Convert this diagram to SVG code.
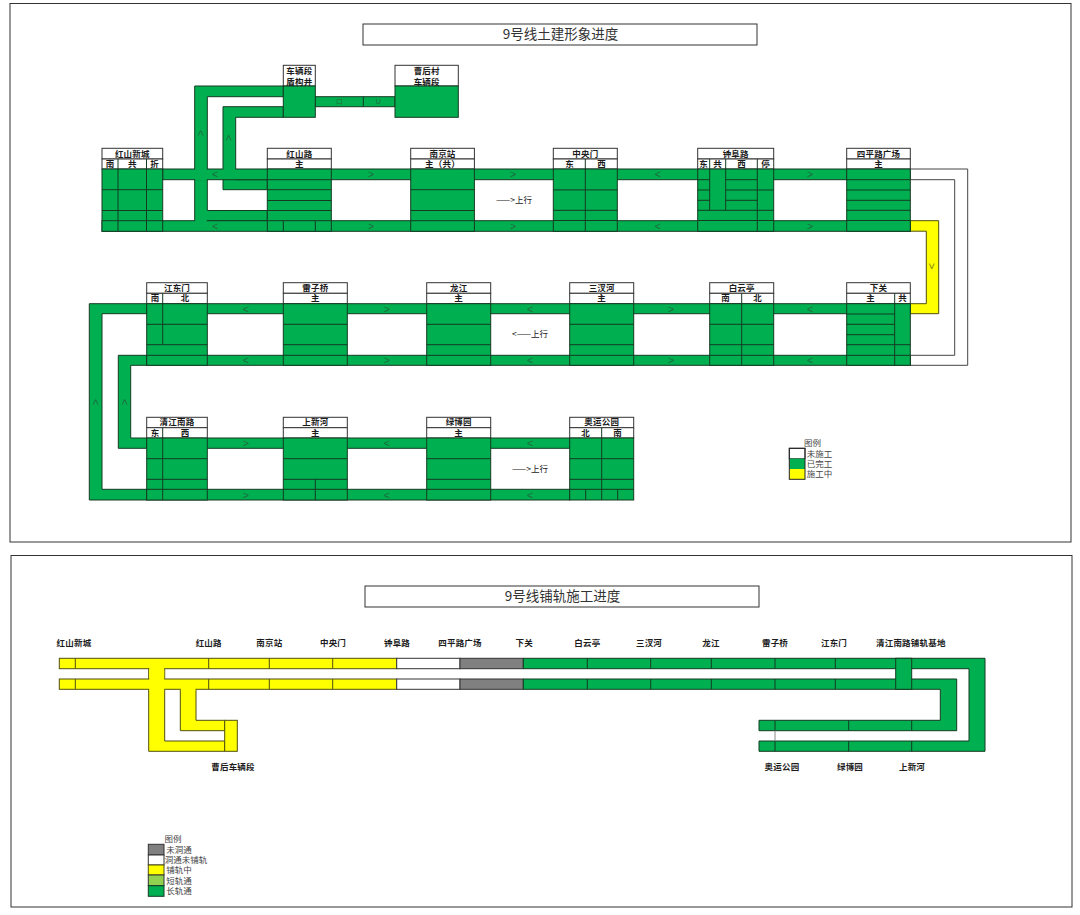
<svg xmlns="http://www.w3.org/2000/svg" width="1080" height="915" viewBox="0 0 1080 915">
<style>
text{font-family:"Noto Sans CJK SC","Liberation Sans",sans-serif;text-anchor:middle;dominant-baseline:central;fill:#1c1c1c}
.panel{fill:#fff;stroke:#333;stroke-width:1}
.w{fill:#fff;stroke:#333;stroke-width:1}
.g{fill:#00b050;stroke:#143a22;stroke-width:1}
.y{fill:#ffff00;stroke:#4f4f10;stroke-width:1}
.k{fill:#808080;stroke:#333;stroke-width:1}
.s{fill:#92d050;stroke:#333;stroke-width:1}
.ln{fill:none;stroke:#143a22;stroke-width:1}
.cg{fill:#00b050;stroke:none}
.cy{fill:#ffff00;stroke:none}
.t{font-size:13.5px;fill:#333;transform:translateY(-1px)}
.n{font-size:8.5px;font-weight:700;letter-spacing:.2px;transform:translateY(-1.2px)}
.l{font-size:8.5px;fill:#444;transform:translateY(-1px)}
.a{font-family:"Liberation Sans",sans-serif;font-size:10.5px;fill:#1f6b3d}
.u{font-size:8.5px;fill:#222;transform:translateY(-1px)}
</style>
<rect width="1080" height="915" fill="#fff"/>
<rect class="panel" x="10" y="3.5" width="1061" height="538.5"/>
<rect class="panel" x="11" y="555.5" width="1061" height="351.5"/>
<g id="title-1"><rect class="w" x="363" y="24" width="394" height="21"/><text class="t" x="560.5" y="34">9号线土建形象进度</text></g>
<g id="title-2"><rect class="w" x="365" y="586" width="394" height="21"/><text class="t" x="562.5" y="596">9号线铺轨施工进度</text></g>

<g id="connectors-1">
<path d="M910.3 169H967.7V365.3H910.3V355.3H954.7V179.7H910.3Z" class="w" style="stroke:#444"/>
<path class="y" d="M910.3 220.7H938.7V313.7H910.3V303.7H926.3V231.2H910.3Z"/>
<path class="g" d="M283.3 86H194.7V220.7H267.3V210.5H207.3V96.7H283.3Z"/>
<path class="g" d="M283.3 106.7H223V189.7H267.3V179.7H235.7V117.3H283.3Z"/>
<rect class="g" x="315.3" y="96.7" width="79.7" height="10"/>
<path class="ln" d="M363.3 96.7V106.7"/>
<rect class="g" x="162.7" y="169" width="684" height="10.7"/>
<rect class="g" x="102" y="220.7" width="808.3" height="10.6"/>
<rect class="cg" x="195.2" y="167.5" width="11.6" height="13"/>
<rect class="cg" x="223.5" y="167.5" width="11.7" height="3"/>
<rect class="cg" x="195.2" y="219" width="11.6" height="3"/>
<rect class="g" x="146.7" y="303.7" width="763.6" height="10"/>
<rect class="g" x="146.7" y="355.3" width="763.6" height="10"/>
<path class="g" d="M146.7 303.7H89.3V500H146.7V489.3H102V313.7H146.7Z"/>
<path class="g" d="M146.7 355.3H118.3V448.3H146.7V438H130.7V365.3H146.7Z"/>
<rect class="g" x="146.7" y="438" width="423" height="10.3"/>
<rect class="g" x="146.7" y="489.3" width="423" height="10.7"/>
</g>

<g id="track-labels">
<text class="a" x="215" y="174.3">&lt;</text><text class="a" x="371" y="174.3">&gt;</text><text class="a" x="513" y="174.3">&gt;</text><text class="a" x="657.7" y="174.3">&lt;</text><text class="a" x="810" y="174.3">&gt;</text>
<text class="a" x="215" y="226">&lt;</text><text class="a" x="371" y="226">&gt;</text><text class="a" x="513" y="226">&gt;</text><text class="a" x="657.7" y="226">&lt;</text><text class="a" x="810" y="226">&gt;</text>
<text class="a" x="245.7" y="308.7">&lt;</text><text class="a" x="386.7" y="308.7">&gt;</text><text class="a" x="530" y="308.7">&lt;</text><text class="a" x="671" y="308.7">&gt;</text><text class="a" x="810" y="308.7">&lt;</text>
<text class="a" x="245.7" y="360.3">&lt;</text><text class="a" x="386.7" y="360.3">&gt;</text><text class="a" x="530" y="360.3">&lt;</text><text class="a" x="671" y="360.3">&gt;</text><text class="a" x="810" y="360.3">&lt;</text>
<text class="a" x="245.7" y="443">&gt;</text><text class="a" x="386.7" y="443">&lt;</text><text class="a" x="530" y="443">&lt;</text>
<text class="a" x="245.7" y="494.7">&gt;</text><text class="a" x="386.7" y="494.7">&lt;</text><text class="a" x="530" y="494.7">&lt;</text>
<text class="a" x="200.5" y="133" transform="rotate(90 200.5 133)">&lt;</text>
<text class="a" x="229.2" y="137.7" transform="rotate(90 229.2 137.7)">&lt;</text>
<text class="a" x="931.7" y="266" transform="rotate(90 931.7 266)" style="fill:#7a7a10">&gt;</text>
<text class="a" x="95.5" y="402" transform="rotate(90 95.5 402)">&lt;</text>
<text class="a" x="124.5" y="402" transform="rotate(90 124.5 402)">&lt;</text>
<text class="a" x="339.3" y="101.5" style="font-size:7px">口</text>
<text class="a" x="378.3" y="101.5" style="font-size:7px">U</text>
<text class="u" x="514" y="200">——&gt;上行</text>
<text class="u" x="530" y="334">&lt;——上行</text>
<text class="u" x="530" y="469">——&gt;上行</text>
</g>

<g id="st-hongshanxincheng">
<rect class="w" x="102" y="148.3" width="60.7" height="10.7"/><rect class="w" x="102" y="159" width="60.7" height="10"/>
<rect class="g" x="102" y="169" width="60.7" height="62.3"/>
<path class="ln" d="M102 189.7H162.7M102 210.5H162.7M102 220.7H162.7M118 159V231.3M146.5 159V231.3"/>
<text class="n" x="132.3" y="153.8">红山新城</text><text class="n" x="110" y="164">南</text><text class="n" x="132.3" y="164">共</text><text class="n" x="154.6" y="164">折</text>
</g>
<g id="st-depot-shaft">
<rect class="w" x="283.3" y="65.3" width="32" height="20.7"/><rect class="g" x="283.3" y="86" width="32" height="31.3"/>
<text class="n" x="299.3" y="71.5">车辆段</text><text class="n" x="299.3" y="82">盾构井</text>
</g>
<g id="st-caohoucun">
<rect class="w" x="395" y="65.3" width="63.3" height="20.7"/><rect class="g" x="395" y="86" width="63.3" height="31.3"/>
<text class="n" x="426.7" y="71.5">曹后村</text><text class="n" x="426.7" y="82">车辆段</text>
</g>
<g id="st-hongshanlu">
<rect class="w" x="267.3" y="148.3" width="64" height="10.7"/><rect class="w" x="267.3" y="159" width="64" height="10"/>
<rect class="g" x="267.3" y="169" width="64" height="62.3"/>
<path class="ln" d="M267.3 179.7H331.3M267.3 189.7H331.3M267.3 200.5H331.3M267.3 210.5H331.3M267.3 220.7H331.3M283.3 220.7V231.3M315.3 220.7V231.3"/>
<text class="n" x="299.3" y="153.8">红山路</text><text class="n" x="299.3" y="164">主</text>
</g>
<g id="st-nanjingzhan">
<rect class="w" x="410.7" y="148.3" width="63.7" height="10.7"/><rect class="w" x="410.7" y="159" width="63.7" height="10"/>
<rect class="g" x="410.7" y="169" width="63.7" height="62.3"/>
<path class="ln" d="M410.7 189.7H474.4M410.7 210.5H474.4M410.7 220.7H474.4"/>
<text class="n" x="442.5" y="153.8">南京站</text><text class="n" x="442.5" y="164">主（共）</text>
</g>
<g id="st-zhongyangmen">
<rect class="w" x="553.3" y="148.3" width="64" height="10.7"/><rect class="w" x="553.3" y="159" width="64" height="10"/>
<rect class="g" x="553.3" y="169" width="64" height="62.3"/>
<path class="ln" d="M553.3 189.9H617.3M553.3 210.3H617.3M553.3 220.5H617.3M585.3 159V231.3"/>
<text class="n" x="585.3" y="153.8">中央门</text><text class="n" x="569.5" y="164">东</text><text class="n" x="601.5" y="164">西</text>
</g>
<g id="st-zhongfulu">
<rect class="w" x="697.7" y="148.3" width="76" height="10.7"/><rect class="w" x="697.7" y="159" width="76" height="10"/>
<rect class="g" x="697.7" y="169" width="76" height="62.3"/>
<path class="ln" d="M697.7 179.7H709.7M697.7 190H709.7M697.7 200.3H709.7M725.7 179.7H757.3M725.7 190H757.3M725.7 200.3H757.3M697.7 210.3H709.7M725.7 210.3H773.7M709.7 210.3H725.7M697.7 220.5H773.7M709.7 159V210.3M725.7 159V210.3M757.3 159V231.3M757.3 190H773.7"/>
<text class="n" x="735.7" y="153.8">钟阜路</text><text class="n" x="703.7" y="164">东</text><text class="n" x="717.7" y="164">共</text><text class="n" x="741.5" y="164">西</text><text class="n" x="765.5" y="164">停</text>
</g>
<g id="st-sipinglu">
<rect class="w" x="846.7" y="148.3" width="63.6" height="10.7"/><rect class="w" x="846.7" y="159" width="63.6" height="10"/>
<rect class="g" x="846.7" y="169" width="63.6" height="62.3"/>
<path class="ln" d="M846.7 179.7H910.3M846.7 190H910.3M846.7 200.3H910.3M846.7 210.3H910.3M846.7 220.5H910.3"/>
<text class="n" x="878.5" y="153.8">四平路广场</text><text class="n" x="878.5" y="164">主</text>
</g>

<g id="st-xiaguan">
<rect class="w" x="846.7" y="282.7" width="63.6" height="10.6"/><rect class="w" x="846.7" y="293.3" width="63.6" height="10.4"/>
<rect class="g" x="846.7" y="303.7" width="63.6" height="61.6"/>
<path class="ln" d="M846.7 314H894.7M846.7 324.3H894.7M846.7 334.7H894.7M846.7 344.7H910.3M846.7 355.3H910.3M894.7 293.3V365.3"/>
<text class="n" x="878.5" y="288">下关</text><text class="n" x="870.7" y="298.5">主</text><text class="n" x="902.5" y="298.5">共</text>
</g>
<g id="st-baiyunting">
<rect class="w" x="709.7" y="282.7" width="64" height="10.6"/><rect class="w" x="709.7" y="293.3" width="64" height="10.4"/>
<rect class="g" x="709.7" y="303.7" width="64" height="61.6"/>
<path class="ln" d="M709.7 324.3H773.7M709.7 344.7H773.7M709.7 355.3H773.7M741.7 293.3V365.3"/>
<text class="n" x="741.7" y="288">白云亭</text><text class="n" x="725.7" y="298.5">南</text><text class="n" x="757.7" y="298.5">北</text>
</g>
<g id="st-sanchahe">
<rect class="w" x="569.7" y="282.7" width="64" height="10.6"/><rect class="w" x="569.7" y="293.3" width="64" height="10.4"/>
<rect class="g" x="569.7" y="303.7" width="64" height="61.6"/>
<path class="ln" d="M569.7 324.3H633.7M569.7 344.7H633.7M569.7 355.3H633.7"/>
<text class="n" x="601.7" y="288">三汊河</text><text class="n" x="601.7" y="298.5">主</text>
</g>
<g id="st-longjiang">
<rect class="w" x="426.7" y="282.7" width="64" height="10.6"/><rect class="w" x="426.7" y="293.3" width="64" height="10.4"/>
<rect class="g" x="426.7" y="303.7" width="64" height="61.6"/>
<path class="ln" d="M426.7 324.3H490.7M426.7 344.7H490.7M426.7 355.3H490.7"/>
<text class="n" x="458.7" y="288">龙江</text><text class="n" x="458.7" y="298.5">主</text>
</g>
<g id="st-leiziqiao">
<rect class="w" x="283.3" y="282.7" width="64" height="10.6"/><rect class="w" x="283.3" y="293.3" width="64" height="10.4"/>
<rect class="g" x="283.3" y="303.7" width="64" height="61.6"/>
<path class="ln" d="M283.3 324.3H347.3M283.3 344.7H347.3M283.3 355.3H347.3"/>
<text class="n" x="315.3" y="288">雷子桥</text><text class="n" x="315.3" y="298.5">主</text>
</g>
<g id="st-jiangdongmen">
<rect class="w" x="146.7" y="282.7" width="60.6" height="10.6"/><rect class="w" x="146.7" y="293.3" width="60.6" height="10.4"/>
<rect class="g" x="146.7" y="303.7" width="60.6" height="61.6"/>
<path class="ln" d="M146.7 324.3H207.3M146.7 344.7H207.3M146.7 355.3H207.3M162.7 293.3V344.7"/>
<text class="n" x="177" y="288">江东门</text><text class="n" x="155" y="298.5">南</text><text class="n" x="185" y="298.5">北</text>
</g>

<g id="st-qingjiangnanlu">
<rect class="w" x="146.7" y="417.3" width="60.6" height="10.4"/><rect class="w" x="146.7" y="427.7" width="60.6" height="10.3"/>
<rect class="g" x="146.7" y="438" width="60.6" height="62"/>
<path class="ln" d="M146.7 458.7H207.3M146.7 479.3H207.3M146.7 489.3H207.3M162.7 427.7V500"/>
<text class="n" x="177" y="422.7">清江南路</text><text class="n" x="155" y="433">东</text><text class="n" x="185" y="433">西</text>
</g>
<g id="st-shangxinhe">
<rect class="w" x="283.3" y="417.3" width="64" height="10.4"/><rect class="w" x="283.3" y="427.7" width="64" height="10.3"/>
<rect class="g" x="283.3" y="438" width="64" height="62"/>
<path class="ln" d="M283.3 458.7H347.3M283.3 479.3H347.3M283.3 489.3H347.3M315.3 479.3V500"/>
<text class="n" x="315.3" y="422.7">上新河</text><text class="n" x="315.3" y="433">主</text>
</g>
<g id="st-lvboyuan">
<rect class="w" x="426.7" y="417.3" width="64" height="10.4"/><rect class="w" x="426.7" y="427.7" width="64" height="10.3"/>
<rect class="g" x="426.7" y="438" width="64" height="62"/>
<path class="ln" d="M426.7 458.7H490.7M426.7 479.3H490.7M426.7 489.3H490.7"/>
<text class="n" x="458.7" y="422.7">绿博园</text><text class="n" x="458.7" y="433">主</text>
</g>
<g id="st-aoyungongyuan">
<rect class="w" x="569.7" y="417.3" width="64" height="10.4"/><rect class="w" x="569.7" y="427.7" width="64" height="10.3"/>
<rect class="g" x="569.7" y="438" width="64" height="62"/>
<path class="ln" d="M569.7 458.7H633.7M569.7 479.3H633.7M569.7 489.3H633.7M601.7 427.7V500M585.7 489.3V500M617.7 489.3V500"/>
<text class="n" x="601.7" y="422.7">奥运公园</text><text class="n" x="585.7" y="433">北</text><text class="n" x="617.7" y="433">南</text>
</g>

<g id="legend-1">
<rect class="w" x="789.3" y="448.3" width="15.7" height="10.4"/><rect class="g" x="789.3" y="458.7" width="15.7" height="10.3" style="stroke:none"/><rect class="y" x="789.3" y="469" width="15.7" height="10.3" style="stroke:none"/>
<rect x="789.3" y="448.3" width="15.7" height="31" fill="none" stroke="#222"/>
<text class="l" x="812.5" y="443">图例</text><text class="l" x="819.5" y="453.7">未施工</text><text class="l" x="819.5" y="464">已完工</text><text class="l" x="819.5" y="474">施工中</text>
</g>

<g id="connectors-2">
<rect class="y" x="148.7" y="668.7" width="16" height="10.3"/>
<path class="y" d="M148.7 689.3V751.3H224.7V741H164.7V689.3Z"/>
<path class="y" d="M180.3 689.3V730.7H224.7V720.3H196V689.3Z"/>
<rect class="y" x="59.3" y="658.3" width="337.4" height="10.4"/>
<rect class="y" x="59.3" y="679" width="337.4" height="10.3"/>
<rect class="cy" x="149.2" y="667.5" width="15" height="13"/>
<rect class="cy" x="149.2" y="688" width="15" height="3"/>
<rect class="cy" x="180.8" y="688" width="14.7" height="3"/>
<rect class="y" x="224.7" y="720.3" width="12.6" height="31"/>
<path d="M75.3 658.3V668.7M75.3 679V689.3M208.7 658.3V668.7M208.7 679V689.3M269.3 658.3V668.7M269.3 679V689.3M332.7 658.3V668.7M332.7 679V689.3" class="ln" style="stroke:#4f4f10"/>
<rect class="w" x="396.7" y="658.3" width="63.3" height="10.4"/><rect class="w" x="396.7" y="679" width="63.3" height="10.3"/>
<rect class="k" x="460" y="658.3" width="63.3" height="10.4"/><rect class="k" x="460" y="679" width="63.3" height="10.3"/>
<path class="g" d="M523.3 658.3H985V751.3H759V741H969V668.7H523.3Z"/>
<path class="g" d="M523.3 679H956.7V730.7H759V720.3H940.3V689.3H523.3Z"/>
<rect class="g" x="895.7" y="658.3" width="16" height="31"/>
<path class="ln" d="M587.3 658.3V668.7M587.3 679V689.3M650.7 658.3V668.7M650.7 679V689.3M711.3 658.3V668.7M711.3 679V689.3M775 658.3V668.7M775 679V689.3M835.3 658.3V668.7M835.3 679V689.3M775 720.3V730.7M775 741V751.3M848.7 720.3V730.7M848.7 741V751.3M911.7 720.3V730.7M911.7 741V751.3"/>
<path d="M775 730.7V741" stroke="#888" fill="none"/>
</g>
<g id="labels-2">
<text class="n" x="74" y="643.3">红山新城</text><text class="n" x="208.7" y="643.3">红山路</text><text class="n" x="269.3" y="643.3">南京站</text><text class="n" x="333" y="643.3">中央门</text><text class="n" x="397" y="643.3">钟阜路</text><text class="n" x="460" y="643.3">四平路广场</text><text class="n" x="524.3" y="643.3">下关</text><text class="n" x="587.3" y="643.3">白云亭</text><text class="n" x="649" y="643.3">三汊河</text><text class="n" x="711" y="643.3">龙江</text><text class="n" x="775" y="643.3">雷子桥</text><text class="n" x="834" y="643.3">江东门</text><text class="n" x="910.8" y="643.3">清江南路铺轨基地</text>
<text class="n" x="233" y="767.3">曹后车辆段</text><text class="n" x="782" y="767.3">奥运公园</text><text class="n" x="850" y="767.3">绿博园</text><text class="n" x="912" y="767.3">上新河</text>
</g>
<g id="legend-2">
<rect class="k" x="148.3" y="844.3" width="15.7" height="10.7"/><rect class="w" x="148.3" y="855" width="15.7" height="10"/><rect class="y" x="148.3" y="865" width="15.7" height="10"/><rect class="s" x="148.3" y="875" width="15.7" height="10.7"/><rect class="g" x="148.3" y="885.7" width="15.7" height="10.6"/>
<text class="l" x="173" y="839">图例</text><text class="l" x="179" y="849.5">未洞通</text><text class="l" x="186" y="860">洞通未铺轨</text><text class="l" x="179" y="870.3">铺轨中</text><text class="l" x="179" y="880.5">短轨通</text><text class="l" x="179" y="891">长轨通</text>
</g>
</svg>
